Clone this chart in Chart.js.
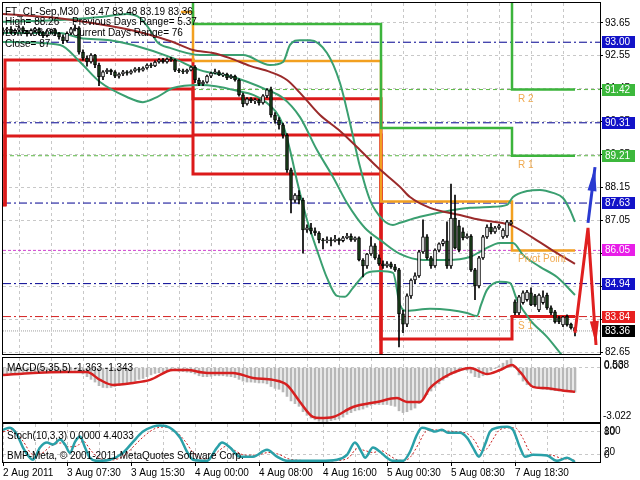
<!DOCTYPE html>
<html>
<head>
<meta charset="utf-8">
<script src="https://cdn.jsdelivr.net/npm/chart.js@4.4.0/dist/chart.umd.min.js"></script>
<style>
body { margin: 0; background: #fff; width: 640px; height: 480px; overflow: hidden; position: relative; }
canvas { position: absolute; left: 0; }
</style>
</head>
<body>
<canvas id="main" width="640" height="356" style="top:0px"></canvas>
<canvas id="macd" width="640" height="67" style="top:356px"></canvas>
<canvas id="stoch" width="640" height="57" style="top:423px"></canvas>
<script>
// ---- data (bar index 0..143, M30 bars) ----
const timeLabels = ['2 Aug 2011', '3 Aug 07:30', '3 Aug 15:30', '4 Aug 00:00', '4 Aug 08:00', '4 Aug 16:00', '5 Aug 00:30', '5 Aug 08:30', '7 Aug 18:30'];
const priceTicks = [82.65, 83.75, 84.85, 85.95, 87.05, 88.15, 89.25, 90.35, 91.45, 92.55, 93.65];

const opens = [93.34,93.40,93.44,93.32,93.40,93.48,93.36,93.28,93.40,93.44,
  93.32,93.22,93.38,93.41,93.30,93.18,93.05,93.30,93.45,93.48,
  92.67,92.47,92.34,92.57,92.24,91.84,92.01,92.07,92.01,91.87,
  91.94,92.01,91.97,92.04,92.11,92.07,92.14,92.24,92.21,92.34,
  92.41,92.34,92.44,92.41,92.07,92.04,92.01,92.07,92.17,91.74,
  91.61,91.67,91.87,91.97,92.01,91.91,91.94,91.81,91.87,91.74,
  91.24,90.94,91.11,91.04,91.07,90.97,91.21,91.41,90.57,90.40,
  90.24,89.90,88.74,87.73,87.90,87.73,86.73,86.80,86.70,86.63,
  86.40,86.37,86.40,86.37,86.43,86.37,86.47,86.53,86.40,86.47,
  85.73,85.53,85.93,86.20,85.80,85.60,85.53,85.60,85.50,85.40,
  83.93,83.59,84.53,85.06,85.20,86.00,86.50,85.80,85.53,86.06,
  86.27,86.37,85.53,87.13,86.87,86.67,86.47,86.53,85.40,84.86,
  85.80,86.50,86.83,86.67,86.80,86.50,86.53,86.93,84.33,83.96,
  84.30,84.40,84.63,84.53,84.06,84.30,84.56,84.13,84.00,83.80,
  83.56,83.86,83.59,83.47];
const highs = [93.48,93.50,93.52,93.45,93.55,93.52,93.40,93.45,93.50,93.48,
  93.36,93.42,93.44,93.45,93.33,93.25,93.35,93.50,93.58,93.52,
  92.75,92.55,92.62,92.60,92.30,92.05,92.12,92.10,92.05,91.98,
  92.06,92.05,92.08,92.15,92.16,92.18,92.28,92.30,92.38,92.45,
  92.46,92.48,92.50,92.44,92.12,92.10,92.10,92.20,92.22,91.80,
  91.72,91.90,92.00,92.10,92.05,91.98,91.97,91.92,91.90,91.78,
  91.30,91.15,91.15,91.12,91.10,91.25,91.45,91.50,90.65,90.48,
  90.30,89.95,88.80,87.95,88.05,87.80,86.90,86.95,86.80,86.68,
  86.45,86.50,86.48,86.55,86.46,86.52,86.62,86.60,86.50,86.50,
  85.78,85.95,86.50,86.28,85.90,85.70,85.68,85.66,85.58,85.45,
  84.05,84.60,85.10,85.30,86.05,87.07,86.58,85.85,86.10,86.30,
  86.42,87.00,88.26,87.90,87.05,86.80,86.60,86.58,85.45,85.85,
  86.55,86.90,86.95,86.85,86.92,86.78,87.05,87.05,84.40,84.55,
  84.70,84.72,84.80,84.58,84.60,84.70,84.62,84.20,84.05,83.85,
  83.85,83.90,83.62,83.48];
const lows = [93.24,93.30,93.28,93.25,93.35,93.30,93.20,93.22,93.33,93.25,
  93.15,93.18,93.30,93.22,93.10,92.95,93.00,93.25,93.38,92.60,
  92.40,92.20,92.30,92.15,91.55,91.75,91.95,91.92,91.82,91.80,
  91.88,91.90,91.93,92.00,92.00,92.03,92.10,92.15,92.18,92.30,
  92.30,92.30,92.36,92.02,91.98,91.95,91.96,92.04,91.65,91.55,
  91.55,91.63,91.82,91.94,91.88,91.85,91.75,91.78,91.70,91.20,
  90.85,90.90,90.98,90.95,90.90,90.93,91.15,90.50,90.30,90.10,
  89.80,88.65,87.30,87.65,87.60,85.96,86.65,86.60,86.55,86.30,
  86.10,86.30,86.20,86.33,86.25,86.33,86.43,86.35,86.35,85.70,
  85.16,85.45,85.88,85.75,85.55,85.45,85.48,85.45,85.35,82.83,
  83.30,83.50,84.45,84.95,85.15,85.95,85.75,85.45,85.48,86.00,
  86.20,85.45,85.45,86.10,86.00,86.40,86.45,85.35,84.40,84.80,
  85.75,86.45,86.60,86.62,86.75,86.45,86.48,86.90,83.90,83.90,
  84.25,84.35,84.20,84.18,84.00,84.25,84.08,83.90,83.62,83.60,
  83.50,83.52,83.42,83.19];
const closes = [93.40,93.44,93.32,93.40,93.48,93.36,93.28,93.40,93.44,93.32,
  93.22,93.38,93.41,93.30,93.18,93.05,93.30,93.45,93.48,92.67,
  92.47,92.34,92.57,92.24,91.84,92.01,92.07,92.01,91.87,91.94,
  92.01,91.97,92.04,92.11,92.07,92.14,92.24,92.21,92.34,92.41,
  92.34,92.44,92.41,92.07,92.04,92.01,92.07,92.17,91.74,91.61,
  91.67,91.87,91.97,92.01,91.91,91.94,91.81,91.87,91.74,91.24,
  90.94,91.11,91.04,91.07,90.97,91.21,91.41,90.57,90.40,90.24,
  89.90,88.74,87.73,87.90,87.73,86.73,86.80,86.70,86.63,86.40,
  86.37,86.40,86.37,86.43,86.37,86.47,86.53,86.40,86.47,85.73,
  85.53,85.93,86.20,85.80,85.60,85.53,85.60,85.50,85.40,83.93,
  83.59,84.53,85.06,85.20,86.00,86.50,85.80,85.53,86.06,86.27,
  86.37,85.53,87.13,86.13,86.06,86.47,86.53,85.40,84.86,85.80,
  86.50,86.83,86.67,86.80,86.87,86.73,87.00,87.00,83.96,84.50,
  84.63,84.66,84.23,84.23,84.56,84.50,84.13,83.96,83.66,83.66,
  83.83,83.56,83.46,83.36];

// Bollinger bands and slow moving average, [bar index, price]
const bbUpper = [[0,93.68],[14.25,93.74],[24.25,93.84],[31,93.94],[34.25,93.81],[36.75,93.41],[38.5,93.01],[41.75,92.81],
  [49.25,92.57],[60,92.57],[66.75,92.24],[70,92.34],[71.75,92.91],[74.25,93.07],[76.75,93.07],[81,92.64],[84.25,91.64],
  [86.75,90.30],[89.25,88.84],[91.75,87.73],[95,87.07],[97.5,86.90],[99.25,86.97],[104.25,87.17],[112.5,87.40],
  [116.75,87.47],[121.75,87.50],[126,87.57],[127.5,87.83],[131,88.03],[134.25,88.07],[137.5,87.97],[140,87.80],
  [141.75,87.40],[143,87.00]];
const bbMiddle = [[0,93.31],[14.25,93.31],[19.25,93.14],[26.75,93.07],[32.5,92.91],[42.5,92.47],[49.25,92.07],[57.5,91.84],
  [66,91.41],[70,91.14],[74.25,90.50],[78.5,89.40],[82.5,88.50],[86,87.63],[88.5,87.13],[91,86.73],[94.25,86.40],
  [99.25,85.93],[105,85.73],[111,85.73],[116.75,85.83],[120,86.06],[124.25,86.30],[127.5,86.30],[130,85.90],
  [134.25,85.50],[138.5,85.16],[143,84.56]];
const bbLower = [[0,93.01],[14.25,92.91],[19.25,92.34],[24.25,91.67],[31,91.17],[35,91.00],[38.5,91.17],[42.5,91.47],
  [49.25,91.57],[57.5,91.41],[66,90.97],[70,90.24],[71.75,89.40],[73.75,88.23],[76,87.07],[78.5,86.06],[81,85.13],
  [83.5,84.53],[85.5,84.50],[87.5,84.80],[91,85.30],[94.25,85.36],[97.5,85.30],[99.25,84.23],[101,84.03],[106.75,84.10],
  [111.75,84.06],[116,83.96],[118.5,83.86],[119.5,84.23],[121,84.73],[124.25,85.00],[126.75,84.96],[128.5,84.40],
  [131.75,83.73],[136,83.16],[139.25,82.63],[141.75,82.23]];
const slowMA = [[0,93.94],[13.5,93.81],[26.75,93.54],[35,93.31],[42.5,93.01],[47.5,92.74],[52.5,92.64],[56.75,92.47],
  [61.75,92.21],[66.75,92.01],[71,91.74],[74.25,91.31],[79.25,90.57],[84.25,90.04],[88.5,89.50],[93.5,88.84],
  [99.25,88.17],[101.75,87.83],[106.75,87.47],[114.25,87.23],[119.25,87.07],[126.75,86.90],[132.5,86.47],
  [138,86.00],[143,85.60]];

// daily pivot levels (first value = level left over from the day before)
const dayStart = [0, 0.5, 47.5, 94.5, 127.25];
const lastBar = 143;
const res2 = [98.0, 98.0, 97.0, 95.6, 91.42];
const res1 = [96.0, 96.0, 93.61, 90.14, 89.21];
const sup1 = [87.57, 92.41, 91.11, 83.09, 83.84];
const sup2 = [87.57, 91.44, 89.90, 80.5, 81.8];
const sup3 = [87.57, 89.87, 88.60, 78.5, 80.2];
const pivotStart = [44.5, 47.5, 94.5, 127.25];
const pivotVals = [94.01, 92.37, 87.68, 86.05];
const pivotNames = ['R 2', 'R 1', 'Pivot Point', 'S 1'];
const pivotNameVals = [91.42, 89.21, 86.05, 83.84];

// horizontal levels shown on the price scale
const levelValues = [93.00, 91.42, 90.31, 89.21, 87.63, 86.05, 84.94, 83.84, 83.36];
const levelKinds = ['fibo', 'res', 'fibo', 'res', 'fibo', 'pivot', 'fibo', 'sup', 'bid'];

// signal arrows at the right edge
const arrowUp = [[146.25, 86.97], [148, 88.83]];
const forecast = [[143, 83.30], [146.25, 86.80], [148.25, 82.89]];

// MACD(5,35,5): main per bar, signal knots
const macdMain = [-0.45,-0.40,-0.35,-0.30,-0.28,-0.25,-0.24,-0.24,-0.22,-0.22,
  -0.23,-0.22,-0.20,-0.20,-0.18,-0.18,-0.15,-0.14,-0.15,-0.20,
  -0.35,-0.50,-0.65,-0.80,-1.00,-1.10,-1.12,-1.10,-1.05,-1.00,
  -0.95,-0.90,-0.85,-0.75,-0.65,-0.60,-0.50,-0.40,-0.32,-0.28,
  -0.22,-0.18,-0.15,-0.15,-0.20,-0.22,-0.25,-0.28,-0.35,-0.45,
  -0.50,-0.50,-0.48,-0.45,-0.45,-0.45,-0.48,-0.50,-0.55,-0.65,
  -0.75,-0.80,-0.80,-0.82,-0.85,-0.85,-0.90,-1.05,-1.15,-1.20,
  -1.35,-1.60,-1.85,-2.00,-2.15,-2.45,-2.65,-2.80,-2.90,-2.98,
  -3.00,-3.00,-2.95,-2.90,-2.85,-2.75,-2.60,-2.50,-2.40,-2.35,
  -2.30,-2.20,-2.10,-2.05,-2.05,-2.05,-2.05,-2.10,-2.15,-2.40,
  -2.50,-2.45,-2.35,-2.25,-2.00,-1.70,-1.50,-1.30,-1.10,-0.90,
  -0.70,-0.55,-0.40,-0.30,-0.20,-0.12,-0.15,-0.30,-0.50,-0.55,
  -0.45,-0.30,-0.15,-0.05,0.10,0.25,0.40,0.50,0.05,-0.40,
  -0.75,-0.95,-1.05,-1.10,-1.15,-1.20,-1.22,-1.25,-1.28,-1.30,
  -1.32,-1.34,-1.35,-1.363];
const macdSignal = [[0,-0.41],[7.5,-0.29],[16,-0.24],[21,-0.24],[24.25,-0.68],[27.5,-0.96],[32.5,-0.85],[36.75,-0.68],
  [42.5,-0.13],[46,-0.13],[51,-0.29],[57.5,-0.29],[62.5,-0.57],[67.5,-0.68],[71,-0.96],[74.25,-1.91],[77.5,-2.74],
  [79.25,-2.80],[82.5,-2.74],[87.5,-2.19],[93.5,-1.91],[98.5,-1.69],[101,-1.91],[104.25,-1.91],[106.75,-1.13],
  [110,-0.57],[114.25,-0.13],[116.75,-0.02],[121,-0.35],[124.25,-0.13],[127.25,0.15],[129.25,-0.24],[132.5,-1.07],
  [135,-1.13],[137.5,-1.18],[141,-1.30],[143,-1.343]];

// Stochastic(10,3,3)
const stochMain = [[0,85],[1.75,90],[3.5,72],[5,38],[6.75,11],[7.5,6],[9.25,38],[11,51],[12.5,46],[14.25,59],[15.5,46],
  [16.75,24],[18,53],[19.25,67],[20.5,38],[21.75,11],[23.5,3],[26.75,6],[30,24],[32.5,53],[35,80],[37.5,93],[39.25,96],
  [41.75,90],[44.25,64],[46,27],[47.5,6],[51,3],[53.5,38],[54.75,51],[56.75,38],[59.25,14],[62.5,14],[66,32],[68.5,14],
  [71,3],[79.25,3],[83.5,6],[86,19],[88,51],[89.75,24],[90.5,11],[92.5,38],[94.25,27],[96,11],[97.5,3],[100,3],
  [101.75,27],[103.5,72],[104.75,90],[106.75,85],[108,80],[109.75,85],[111.25,77],[114.25,77],[116,64],[117.5,38],
  [119,14],[120.5,46],[121.75,80],[123.5,90],[126,93],[127.5,85],[129.25,38],[130.5,14],[132.5,19],[136,17],
  [138.5,3],[141,11],[143,0]];
const stochSignal = [[0,80],[2.5,85],[5,55],[7.5,20],[9.5,22],[12,42],[14.5,50],[16.5,40],[18.5,42],[20,55],[22,30],
  [24,10],[27,5],[30.5,18],[33,45],[35.5,70],[38,88],[40.5,92],[43,82],[45.5,55],[47.5,25],[50,8],[52,10],[54,30],
  [56,42],[58,30],[60.5,18],[63,18],[66.5,25],[69,20],[71.5,8],[75,4],[80,3],[84,4],[86.5,12],[88.5,35],[90.5,30],
  [92.5,25],[94.5,30],[96.5,18],[98.5,6],[100.5,4],[102,15],[104,50],[105.5,78],[107.5,85],[110,82],[113,80],
  [116,75],[118,55],[119.5,30],[121,35],[122.5,60],[124,83],[126.5,90],[128,90],[130,62],[131.5,30],[133.5,18],
  [137,18],[139.5,10],[141.5,7],[143,4.4033]];

// ---- styles ----
const FONT = "'Liberation Sans Narrow', 'Liberation Sans', sans-serif";
Chart.defaults.font.family = FONT;
Chart.defaults.font.size = 10;
Chart.defaults.color = '#000';
const gridColor = '#c8c8c8';
const bearFill = '#1a3f1a';
const levelStyles = {
  fibo:  { line: '#000090', dash: [8, 3, 2, 3], box: '#1212c8' },
  res:   { line: '#5cb845', dash: [4, 3], box: '#3cb83c' },
  pivot: { line: '#d040d0', dash: [3, 2], box: '#e81ee8' },
  sup:   { line: '#d42020', dash: [8, 3, 2, 3], box: '#e82020' },
  bid:   { line: '#a0a0a0', dash: [1, 1], box: '#000000' }
};
const xMax = 149.25;

const pts = arr => arr.map(([x, y]) => ({ x, y }));
const steps = (xs, vals) => xs.map((x, k) => ({ x, y: vals[k] })).concat([{ x: lastBar, y: vals[vals.length - 1] }]);

function xAxis(height, showLabels) {
  return {
    type: 'linear', min: 0, max: xMax, offset: false,
    afterBuildTicks: s => { const t = []; for (let v = 0; v <= 144; v += 8) t.push({ value: v }); s.ticks = t; },
    afterFit: s => { s.height = height; s.paddingLeft = 0; s.paddingRight = 0; },
    ticks: {
      display: showLabels, autoSkip: false, maxRotation: 0, minRotation: 0, align: 'start', padding: 1,
      callback: v => (v % 16 === 0 ? timeLabels[v / 16] : '')
    },
    grid: {
      color: gridColor, drawTicks: showLabels, tickLength: 4,
      tickColor: c => (c.tick && c.tick.value % 16 === 0 ? '#000' : 'rgba(0,0,0,0)')
    },
    border: { display: false, dash: [3, 3] }
  };
}
function yAxis(min, max, tickVals, showLabels) {
  return {
    type: 'linear', position: 'right', min, max,
    afterBuildTicks: s => { s.ticks = tickVals.map(v => ({ value: v })); },
    afterFit: s => { s.width = 40; s.paddingTop = 0; s.paddingBottom = 0; },
    ticks: { display: showLabels, padding: 2, callback: v => v.toFixed(2) },
    grid: { color: gridColor, drawTicks: showLabels, tickLength: 3, tickColor: '#000' },
    border: { display: false, dash: [3, 3] }
  };
}
const frame = {
  id: 'frame',
  afterDraw(chart) {
    const { ctx, chartArea: a } = chart;
    ctx.save();
    ctx.strokeStyle = '#000';
    ctx.lineWidth = 1;
    ctx.strokeRect(Math.round(a.left) - 0.5, Math.round(a.top) - 0.5, Math.round(a.right - a.left) + 1, Math.round(a.bottom - a.top) + 1);
    ctx.restore();
  }
};
const baseOpts = { responsive: false, animation: false, events: [], plugins: { legend: { display: false }, tooltip: { enabled: false } } };

// ---- main price chart ----
const lineDs = (data, color, width, order, extra) => Object.assign({
  type: 'line', data, borderColor: color, borderWidth: width, pointRadius: 0, fill: false, order
}, extra || {});

const mainDatasets = [
  { type: 'bar', order: 1, grouped: false, barThickness: 3, minBarLength: 1,
    data: opens.map((o, i) => ({ x: i, y: [o, closes[i]] })),
    backgroundColor: opens.map((o, i) => (closes[i] >= o ? '#ffffff' : bearFill)),
    borderColor: '#000', borderWidth: 1, borderSkipped: false },
  { type: 'bar', order: 2, grouped: false, barThickness: 1,
    data: lows.map((l, i) => ({ x: i, y: [l, highs[i]] })), backgroundColor: '#000' },
  lineDs(pts(bbUpper), '#3a9f70', 2, 5, { cubicInterpolationMode: 'monotone' }),
  lineDs(pts(bbMiddle), '#3a9f70', 2, 5, { cubicInterpolationMode: 'monotone' }),
  lineDs(pts(bbLower), '#3a9f70', 2, 5, { cubicInterpolationMode: 'monotone' }),
  lineDs(pts(slowMA), '#9a2a2a', 2, 4, { cubicInterpolationMode: 'monotone' }),
  lineDs(steps(dayStart, res2), '#3cb43c', 2.5, 6, { stepped: 'before' }),
  lineDs(steps(dayStart, res1), '#3cb43c', 2.5, 6, { stepped: 'before' }),
  lineDs(steps(pivotStart, pivotVals), '#f2a020', 2.5, 6, { stepped: 'before' }),
  lineDs(steps(dayStart, sup1), '#dc1a1a', 3, 6, { stepped: 'before' }),
  lineDs(steps(dayStart, sup2), '#dc1a1a', 3, 6, { stepped: 'before' }),
  lineDs(steps(dayStart, sup3), '#dc1a1a', 3, 6, { stepped: 'before' }),
  lineDs(pts(arrowUp), '#2a3ad0', 3, 0),
  lineDs(pts(forecast), '#e02020', 3, 0)
];
levelValues.forEach((v, k) => {
  const st = levelStyles[levelKinds[k]];
  mainDatasets.push(lineDs([{ x: 0, y: v }, { x: xMax, y: v }], st.line, 1, 8, { borderDash: st.dash }));
});

const mainText = {
  id: 'mainText',
  afterDraw(chart) {
    const { ctx, chartArea: a, scales: { x, y } } = chart;
    ctx.save();
    ctx.font = '10px ' + FONT;
    // price scale boxes
    ctx.textBaseline = 'middle';
    levelValues.forEach((v, k) => {
      const py = Math.round(y.getPixelForValue(v));
      ctx.fillStyle = levelStyles[levelKinds[k]].box;
      ctx.fillRect(a.right + 2, py - 6, 33, 12);
      ctx.fillStyle = '#fff';
      ctx.fillText(v.toFixed(2), a.right + 5, py);
    });
    // pivot names
    ctx.textBaseline = 'alphabetic';
    ctx.fillStyle = '#f0aa50';
    pivotNames.forEach((n, k) => {
      ctx.fillText(n, x.getPixelForValue(128.75), y.getPixelForValue(pivotNameVals[k]) + 12);
    });
    // header
    ctx.fillStyle = '#000';
    ctx.fillText('FT_CL-Sep,M30  83.47 83.48 83.19 83.36', 5, 15);
    ctx.fillText('High= 88.26', 5, 25);
    ctx.fillText('Previous Days Range= 5.37', 72, 25);
    ctx.fillText('Low= 83.00', 5, 36);
    ctx.fillText('Current Days Range= 76', 72, 36);
    ctx.fillText('Close= 87', 5, 47);
    // arrow heads
    const head = (p0, p1, color) => {
      const x0 = x.getPixelForValue(p0[0]), y0 = y.getPixelForValue(p0[1]);
      const x1 = x.getPixelForValue(p1[0]), y1 = y.getPixelForValue(p1[1]);
      const ang = Math.atan2(y1 - y0, x1 - x0), L = 24, W = 4.5;
      const bx = x1 - L * Math.cos(ang), by = y1 - L * Math.sin(ang);
      ctx.fillStyle = color;
      ctx.beginPath();
      ctx.moveTo(x1, y1);
      ctx.lineTo(bx + W * Math.sin(ang), by - W * Math.cos(ang));
      ctx.lineTo(bx - W * Math.sin(ang), by + W * Math.cos(ang));
      ctx.closePath();
      ctx.fill();
    };
    head(arrowUp[0], arrowUp[1], '#2a3ad0');
    head(forecast[1], forecast[2], '#e02020');
    ctx.restore();
  }
};

new Chart(document.getElementById('main'), {
  type: 'line',
  data: { datasets: mainDatasets },
  options: Object.assign({}, baseOpts, {
    layout: { padding: { left: 3, right: 0, top: 3, bottom: 2 } },
    scales: { x: xAxis(0, false), y: yAxis(82.59, 94.31, priceTicks, true) }
  }),
  plugins: [frame, mainText]
});

// ---- MACD panel ----
new Chart(document.getElementById('macd'), {
  type: 'line',
  data: {
    datasets: [
      lineDs(pts(macdSignal), '#d62020', 2.5, 0, { cubicInterpolationMode: 'monotone' }),
      { type: 'bar', order: 1, grouped: false, barThickness: 2, data: macdMain.map((v, i) => ({ x: i, y: v })), backgroundColor: '#b8b8b8' }
    ]
  },
  options: Object.assign({}, baseOpts, {
    layout: { padding: { left: 3, right: 0, top: 2, bottom: 1 } },
    scales: { x: xAxis(0, false), y: yAxis(-3.022, 0.538, [0], false) }
  }),
  plugins: [frame, {
    id: 'macdText',
    afterDraw(chart) {
      const { ctx, chartArea: a, scales: { y } } = chart;
      ctx.save();
      ctx.font = '10px ' + FONT;
      ctx.fillStyle = '#000';
      ctx.fillText('MACD(5,35,5) -1.363 -1.343', 7, 15);
      ctx.textBaseline = 'middle';
      ctx.fillText('0.538', a.right + 4, y.getPixelForValue(0) - 2);
      ctx.fillText('0.00', a.right + 4, y.getPixelForValue(0) - 1);
      ctx.fillText('-3.022', a.right + 3, y.getPixelForValue(-3.022) - 6);
      ctx.restore();
    }
  }]
});

// ---- Stochastic panel ----
new Chart(document.getElementById('stoch'), {
  type: 'line',
  data: {
    datasets: [
      lineDs(pts(stochMain), '#2aa0a8', 2.5, 0, { cubicInterpolationMode: 'monotone' }),
      lineDs(pts(stochSignal), '#cc2020', 1, 1, { borderDash: [2, 2], cubicInterpolationMode: 'monotone' })
    ]
  },
  options: Object.assign({}, baseOpts, {
    layout: { padding: { left: 3, right: 0, top: 1, bottom: 0 } },
    scales: { x: xAxis(18, true), y: yAxis(0, 100, [20, 80], false) }
  }),
  plugins: [frame, {
    id: 'stochText',
    afterDraw(chart) {
      const { ctx, chartArea: a, scales: { y } } = chart;
      ctx.save();
      ctx.font = '10px ' + FONT;
      ctx.fillStyle = '#000';
      ctx.fillText('Stoch(10,3,3) 0.0000 4.4033', 7, 16);
      ctx.fillText('BMP-Meta, \u00a9 2001-2011 MetaQuotes Software Corp.', 7, 36);
      ctx.textBaseline = 'middle';
      ctx.fillText('100', a.right + 4, y.getPixelForValue(80));
      ctx.fillText('80', a.right + 4, y.getPixelForValue(80) + 1);
      ctx.fillText('20', a.right + 4, y.getPixelForValue(20) - 2);
      ctx.fillText('0', a.right + 4, y.getPixelForValue(20) + 1);
      ctx.restore();
    }
  }]
});
</script>
</body>
</html>
